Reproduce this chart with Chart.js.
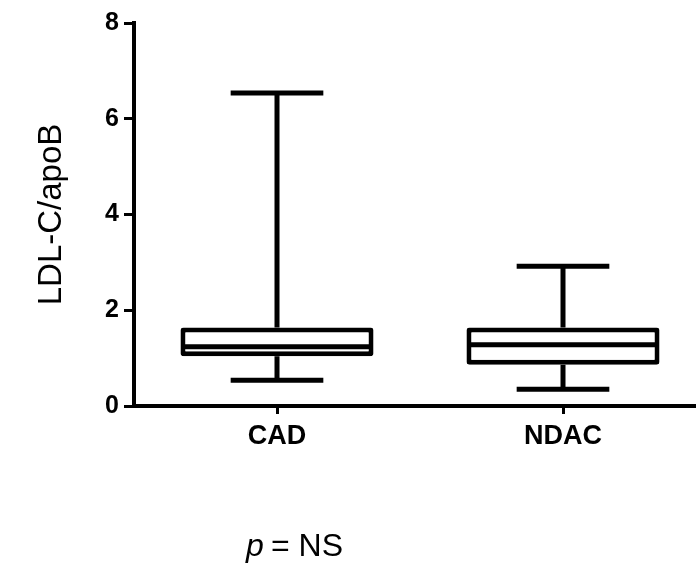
<!DOCTYPE html>
<html>
<head>
<meta charset="utf-8">
<script src="https://cdn.jsdelivr.net/npm/chart.js@4.4.0/dist/chart.umd.min.js"></script>
<style>
  html, body { margin: 0; padding: 0; background: #fff; overflow: hidden; }
  #wrap { width: 696px; height: 572px; overflow: hidden; }
</style>
</head>
<body>
<div id="wrap">
  <canvas id="myChart" width="706" height="572"></canvas>
</div>
<script>
// box plot values
const categories = ['CAD', 'NDAC'];
const minVals = [0.54, 0.35];
const q1Vals = [1.04, 0.86];
const medianVals = [1.24, 1.28];
const q3Vals = [1.64, 1.64];
const maxVals = [6.54, 2.92];
const yTicks = [0, 2, 4, 6, 8];

const FONT = "'Liberation Sans', Arial, Helvetica, sans-serif";

// whiskers, caps and median lines, drawn through the chart scales
const boxExtras = {
  id: 'boxExtras',
  afterDatasetsDraw(chart) {
    const ctx = chart.ctx;
    const x = chart.scales.x;
    const y = chart.scales.y;
    const bars = chart.getDatasetMeta(0).data;
    ctx.save();
    ctx.strokeStyle = '#000';
    ctx.lineWidth = 5;
    ctx.lineCap = 'butt';
    categories.forEach((c, i) => {
      const cx = x.getPixelForValue(i);
      const half = bars[i].width / 2;
      const capHalf = half * 0.48;
      ctx.beginPath();
      // upper whisker
      ctx.moveTo(cx, y.getPixelForValue(q3Vals[i]));
      ctx.lineTo(cx, y.getPixelForValue(maxVals[i]));
      ctx.moveTo(cx - capHalf, y.getPixelForValue(maxVals[i]));
      ctx.lineTo(cx + capHalf, y.getPixelForValue(maxVals[i]));
      // lower whisker
      ctx.moveTo(cx, y.getPixelForValue(q1Vals[i]));
      ctx.lineTo(cx, y.getPixelForValue(minVals[i]));
      ctx.moveTo(cx - capHalf, y.getPixelForValue(minVals[i]));
      ctx.lineTo(cx + capHalf, y.getPixelForValue(minVals[i]));
      // median
      ctx.moveTo(cx - half + 2, y.getPixelForValue(medianVals[i]));
      ctx.lineTo(cx + half - 2, y.getPixelForValue(medianVals[i]));
      ctx.stroke();
    });
    ctx.restore();
  },
  afterDraw(chart) {
    const ctx = chart.ctx;
    ctx.save();
    ctx.fillStyle = '#000';
    ctx.textBaseline = 'alphabetic';
    const py = 556;
    ctx.font = 'italic 32px ' + FONT;
    ctx.fillText('p', 246, py);
    ctx.font = '32px ' + FONT;
    ctx.fillText('= NS', 271, py);
    ctx.restore();
  }
};

new Chart(document.getElementById('myChart'), {
  type: 'bar',
  data: {
    labels: categories,
    datasets: [{
      data: q1Vals.map((q, i) => [q, q3Vals[i]]),
      backgroundColor: '#fff',
      borderColor: '#000',
      borderWidth: 5,
      borderRadius: 3,
      borderSkipped: false,
      categoryPercentage: 1,
      barPercentage: 0.675
    }]
  },
  options: {
    responsive: false,
    animation: false,
    events: [],
    layout: { padding: { top: 23, right: 0, left: 0, bottom: 0 } },
    plugins: {
      legend: { display: false },
      tooltip: { enabled: false }
    },
    scales: {
      x: {
        afterFit: s => { s.height = 166; },
        grid: {
          offset: false,
          drawOnChartArea: false,
          tickLength: 8,
          tickWidth: 3,
          tickColor: '#000'
        },
        border: { color: '#000', width: 4 },
        ticks: {
          color: '#000',
          padding: 6,
          font: { family: FONT, size: 27, weight: 'bold' }
        }
      },
      y: {
        min: 0,
        max: 8,
        afterFit: s => { s.width = 134; },
        afterBuildTicks: s => { s.ticks = yTicks.map(v => ({ value: v })); },
        grid: {
          drawOnChartArea: false,
          tickLength: 10,
          tickWidth: 3,
          tickColor: '#000'
        },
        border: { color: '#000', width: 4 },
        ticks: {
          color: '#000',
          padding: 5,
          font: { family: FONT, size: 25, weight: 'bold' }
        },
        title: {
          display: true,
          text: 'LDL-C/apoB',
          color: '#000',
          padding: { top: 32, bottom: 0 },
          font: { family: FONT, size: 33 }
        }
      }
    }
  },
  plugins: [boxExtras]
});
</script>
</body>
</html>
